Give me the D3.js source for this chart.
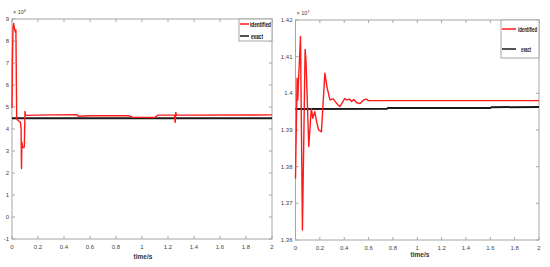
<!DOCTYPE html>
<html><head><meta charset="utf-8">
<script src="https://cdn.jsdelivr.net/npm/d3@7"></script>
<style>body{margin:0;background:#fff}svg{display:block}</style>
</head><body>
<svg id="c" width="550" height="267"></svg>
<script>
// ---- data ----
const leftXTicks = [0,0.2,0.4,0.6,0.8,1,1.2,1.4,1.6,1.8,2];
const leftYTicks = [-1,0,1,2,3,4,5,6,7,8,9];
const rightXTicks = [0,0.2,0.4,0.6,0.8,1,1.2,1.4,1.6,1.8,2];
const rightYTicks = [1.36,1.37,1.38,1.39,1.40,1.41,1.42];
const rightYLabels = ["1.36","1.37","1.38","1.39","1.4","1.41","1.42"];
const legendNames = ["identified","exact"];
// left: identified (x10^6)
const leftT = [0,0.003,0.008,0.013,0.018,0.022,0.026,0.03,0.033,0.036,0.045,0.055,0.065,0.07,0.073,0.076,0.08,0.09,0.095,0.1,0.105,0.3,0.5,0.51,0.6,0.7,0.8,0.9,0.93,1.0,1.1,1.12,1.25,1.255,1.26,1.265,2.0];
const leftIdent = [4.95,7.0,8.6,8.8,8.6,8.5,8.4,8.5,6.5,4.45,4.4,4.35,4.3,4.0,2.2,3.4,3.2,3.15,3.2,4.8,4.62,4.64,4.65,4.58,4.6,4.6,4.6,4.6,4.53,4.53,4.52,4.63,4.63,4.3,4.75,4.63,4.64];
const leftExactT = [0,2];
const leftExact = [4.49,4.49];
// right: identified (x10^7)
const rightT = [0,0.013,0.019,0.023,0.041,0.057,0.079,0.086,0.109,0.13,0.142,0.158,0.172,0.19,0.213,0.241,0.26,0.283,0.31,0.33,0.35,0.365,0.39,0.405,0.42,0.445,0.46,0.48,0.5,0.53,0.56,0.58,0.6,2.0];
const rightIdent = [1.3768,1.4041,1.3982,1.402,1.4155,1.3627,1.412,1.409,1.3855,1.3959,1.3932,1.395,1.3925,1.390,1.3895,1.4055,1.4015,1.3982,1.3985,1.3976,1.3968,1.3964,1.3978,1.3986,1.3982,1.3984,1.3978,1.3983,1.3975,1.3972,1.3982,1.3984,1.398,1.398];
const rightExactT = [0,0.75,0.76,1.6,1.61,2.0];
const rightExact = [1.3957,1.3958,1.396,1.396,1.3962,1.3963];

const svg = d3.select("#c");
const axisCol = "#a6a6a6", textCol = "#444";
const font = "'Liberation Sans Narrow','Liberation Sans',Arial,sans-serif";

function panel(o){
  const x = d3.scaleLinear().domain([0,2]).range([o.x0,o.x1]);
  const y = d3.scaleLinear().domain(o.yDom).range([o.y1,o.y0]);
  const g = svg.append("g");
  g.append("rect").attr("x",o.x0).attr("y",o.y0).attr("width",o.x1-o.x0).attr("height",o.y1-o.y0)
    .attr("fill","#fff").attr("stroke",axisCol).attr("stroke-width",1);
  // ticks inward on all four sides
  o.xTicks.forEach(t=>{
    g.append("line").attr("x1",x(t)).attr("x2",x(t)).attr("y1",o.y1).attr("y2",o.y1-3).attr("stroke",axisCol);
    g.append("line").attr("x1",x(t)).attr("x2",x(t)).attr("y1",o.y0).attr("y2",o.y0+3).attr("stroke",axisCol);
    g.append("text").attr("x",x(t)).attr("y",o.y1+10).attr("text-anchor","middle")
      .attr("font-family",font).attr("font-size",6).attr("fill",textCol).text(String(t));
  });
  o.yTicks.forEach((t,i)=>{
    g.append("line").attr("x1",o.x0).attr("x2",o.x0+3).attr("y1",y(t)).attr("y2",y(t)).attr("stroke",axisCol);
    g.append("line").attr("x1",o.x1).attr("x2",o.x1-3).attr("y1",y(t)).attr("y2",y(t)).attr("stroke",axisCol);
    g.append("text").attr("x",o.x0-3).attr("y",y(t)+2).attr("text-anchor","end")
      .attr("font-family",font).attr("font-size",6).attr("fill",textCol).text(o.yLabels?o.yLabels[i]:String(t));
  });
  // exponent
  const ex = g.append("text").attr("x",o.x0+1).attr("y",o.y0-5).attr("font-family",font)
    .attr("font-size",5.5).attr("fill",textCol);
  ex.append("tspan").text("\u00d7 10");
  ex.append("tspan").attr("dy",-2).attr("font-size",4).text(o.exp);
  // xlabel
  g.append("text").attr("x",o.xlab).attr("y",o.xlabY).attr("text-anchor","middle").attr("font-family",font)
    .attr("font-weight","bold").attr("font-size",6.5).attr("fill","#333").text("time/s");
  const line = d3.line().x(d=>x(d[0])).y(d=>y(d[1]));
  g.append("path").datum(o.exT.map((t,i)=>[t,o.ex[i]])).attr("d",line).attr("fill","none")
    .attr("stroke","#1a1a1a").attr("stroke-width",2);
  g.append("path").datum(o.idT.map((t,i)=>[t,o.id[i]])).attr("d",line).attr("fill","none")
    .attr("stroke","#ff1a1a").attr("stroke-width",1.4).attr("stroke-linejoin","round");
  // legend
  const L = o.leg;
  g.append("rect").attr("x",L.x).attr("y",o.y0).attr("width",o.x1-L.x).attr("height",L.h)
    .attr("fill","#fff").attr("stroke",axisCol);
  L.items.forEach((it,i)=>{
    g.append("line").attr("x1",L.x+1).attr("x2",L.x+1+L.lw).attr("y1",it.y).attr("y2",it.y)
      .attr("stroke",i===0?"#ff1a1a":"#1a1a1a").attr("stroke-width",1.5);
    g.append("text").attr("x",it.tx).attr("y",it.y+2.5).attr("font-family",font).attr("font-weight","bold")
      .attr("font-size",7).attr("fill","#111").attr("textLength",it.tl).attr("lengthAdjust","spacingAndGlyphs")
      .text(legendNames[i]);
  });
}

panel({x0:12,x1:272,y0:19,y1:239,yDom:[-1,9],xTicks:leftXTicks,yTicks:leftYTicks,exp:"6",
  xlab:143,xlabY:259,idT:leftT,id:leftIdent,exT:leftExactT,ex:leftExact,
  leg:{x:239,h:22,lw:9,items:[{y:24,tx:250,tl:21},{y:36,tx:251,tl:12}]}});
panel({x0:295.5,x1:539,y0:20,y1:240,yDom:[1.36,1.42],xTicks:rightXTicks,yTicks:rightYTicks,yLabels:rightYLabels,exp:"7",
  xlab:420,xlabY:257,idT:rightT,id:rightIdent,exT:rightExactT,ex:rightExact,
  leg:{x:501,h:38,lw:14,items:[{y:29,tx:518,tl:19},{y:49,tx:521,tl:10}]}});
</script>
</body></html>
